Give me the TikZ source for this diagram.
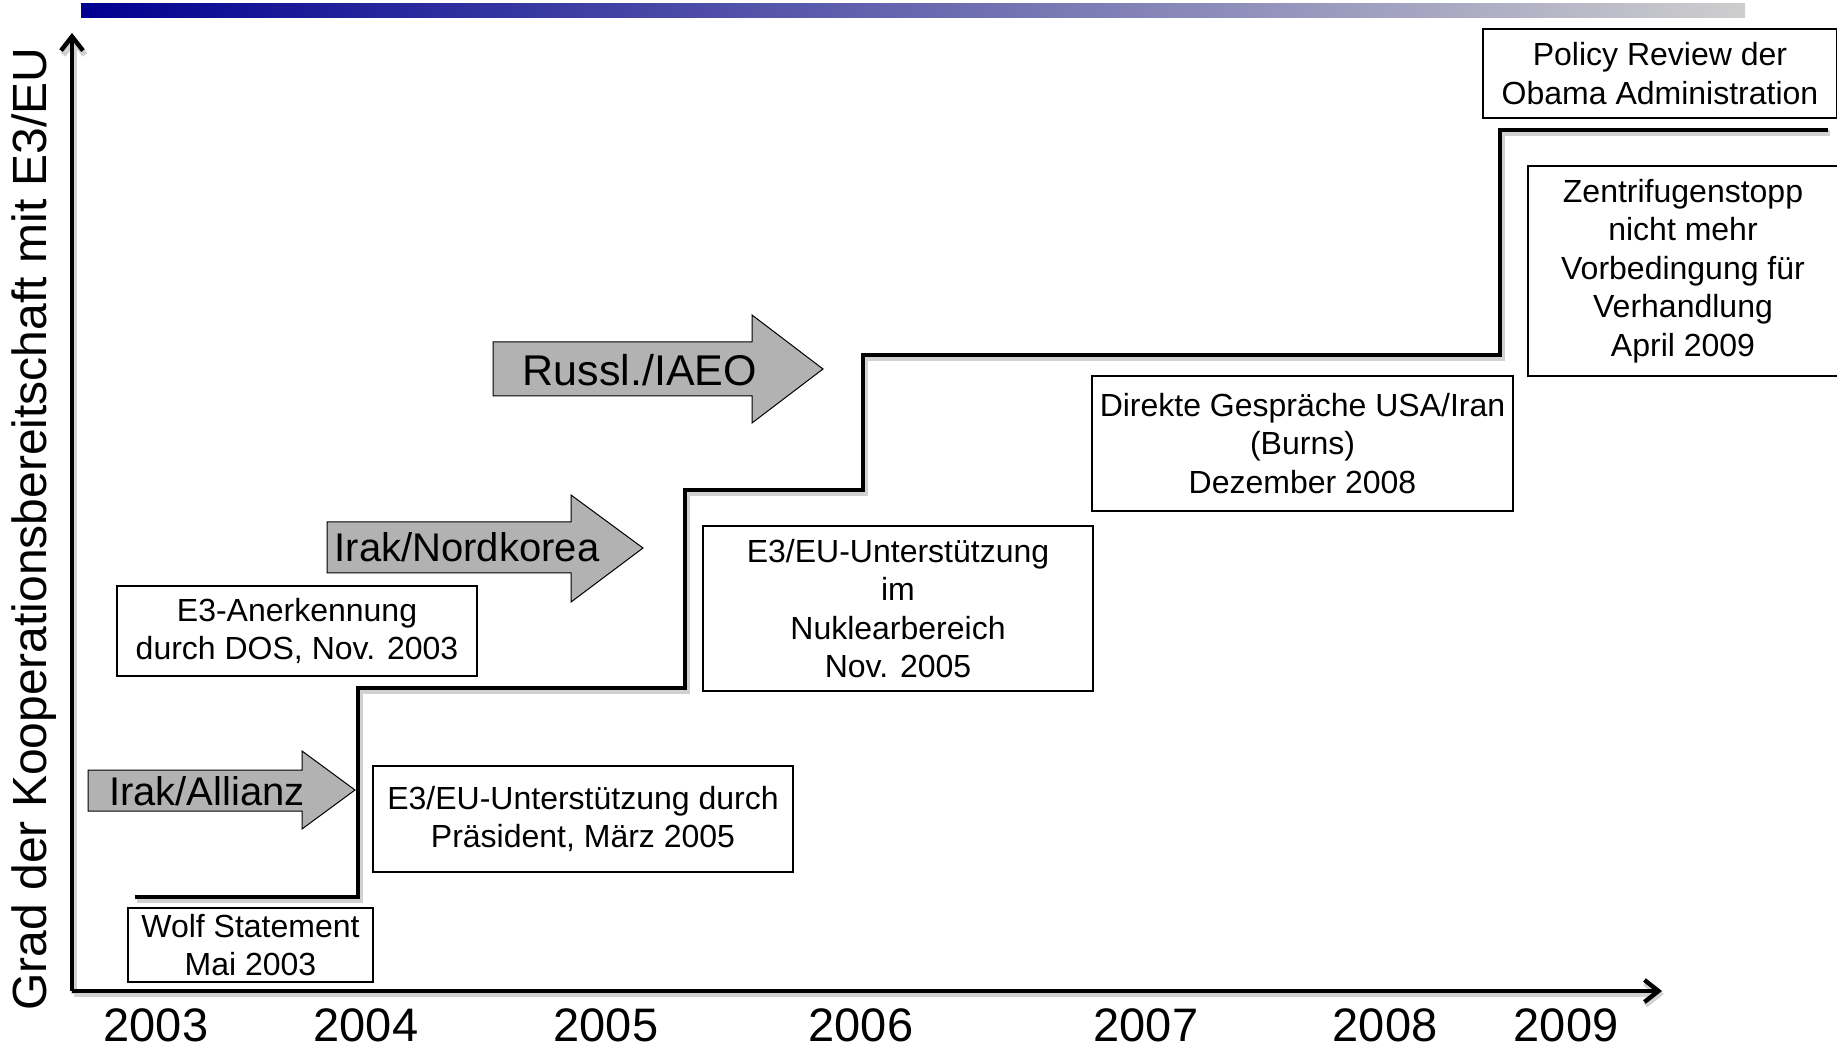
\documentclass[tikz,border=0pt]{standalone}
\usepackage{fontspec}
\setmainfont{Liberation Sans}
\usetikzlibrary{arrows.meta}
\definecolor{barblue}{RGB}{0,0,145}
\definecolor{bargray}{RGB}{206,206,206}
\definecolor{arrowgray}{RGB}{178,178,178}

\begin{document}
\begin{tikzpicture}[x=0.5pt, y=0.5pt,
    shadowed/.style={preaction={draw=black!18, line width=3pt,
        transform canvas={shift={(1pt,-1.5pt)}}}},
    axis/.style={shadowed, line width=2.2pt, -{Straight Barb[length=7pt, width=11pt]}},
    stepline/.style={shadowed, line width=2.3pt},
    event/.style={draw, line width=0.7pt, align=center, inner sep=0pt,
        font=\fontsize{16}{19.3}\selectfont},
    blockarrow/.style={fill=arrowgray, draw, line width=0.5pt},
    arrowtext/.style={anchor=base, inner sep=0pt, font=\fontsize{20}{24}\selectfont},
    yearlabel/.style={anchor=base, inner sep=0pt, font=\fontsize{23.5}{28}\selectfont}]
    \useasboundingbox (0,0) rectangle (1837,1051);

    % title bar
    \shade[left color=barblue, right color=bargray] (81,1033) rectangle (1745,1047);

    % axes
    \coordinate (origin) at (72,60);
    \coordinate (ytop) at (72,1018);
    \coordinate (xend) at (1662,60);
    \draw[axis] (origin) -- (ytop);
    \draw[axis] (origin) -- (xend);
    \node[rotate=90, anchor=base, inner sep=0pt, font=\fontsize{24}{28}\selectfont]
        (ylabel) at (46,522) {Grad der Kooperationsbereitschaft mit E3/EU};

    \foreach \x/\j in {156/2003,366/2004,606/2005,861/2006,1146/2007,1385/2008,1566/2009}
        {\node[yearlabel] (y\j) at (\x,10) {\j};}

    % steps
    \draw[stepline] (135,154) -- (358,154) -- (358,363) -- (685,363) -- (685,561)
        -- (863,561) -- (863,696) -- (1500,696) -- (1500,921) -- (1828,921);

    % block arrows
    \filldraw[blockarrow] (88,240) -- (302,240) -- (302,222) -- (355,261)
        -- (302,300) -- (302,281) -- (88,281) -- cycle;
    \node[arrowtext] (allianz) at (207,246) {Irak/Allianz};
    \filldraw[blockarrow] (327,478) -- (571,478) -- (571,449) -- (643,503)
        -- (571,556) -- (571,529) -- (327,529) -- cycle;
    \node[arrowtext] (nordkorea) at (467,489) {Irak/Nordkorea};
    \filldraw[blockarrow] (493,655) -- (752,655) -- (752,628) -- (823,682)
        -- (752,736) -- (752,709) -- (493,709) -- cycle;
    \node[arrowtext, font=\fontsize{21.5}{24}\selectfont] (iaeo) at (640,665) {Russl./IAEO};

    % events
    \node[event, minimum width=122.5pt, minimum height=37pt] (wolf) at (250.5,106)
        {Wolf Statement\\Mai 2003};
    \node[event, minimum width=180pt, minimum height=45pt] (dos) at (297,420)
        {E3-Anerkennung\\durch DOS, Nov. 2003};
    \node[event, minimum width=210pt, minimum height=53pt] (praesident) at (583,232)
        {E3/EU-Unterstützung durch\\Präsident, März 2005};
    \node[event, minimum width=195pt, minimum height=82.5pt] (nuklear) at (898,442.5)
        {E3/EU-Unterstützung\\im\\Nuklearbereich\\Nov. 2005};
    \node[event, minimum width=210.5pt, minimum height=67.5pt] (burns) at (1302.5,607.5)
        {Direkte Gespräche USA/Iran\\(Burns)\\Dezember 2008};
    \node[event, minimum width=177pt, minimum height=44.5pt] (obama) at (1660,977.5)
        {Policy Review der\\Obama Administration};
    \node[event, minimum width=155pt, minimum height=105pt] (zentrifugen) at (1683,780)
        {Zentrifugenstopp\\nicht mehr\\Vorbedingung für\\Verhandlung\\April 2009};
\end{tikzpicture}
\end{document}
